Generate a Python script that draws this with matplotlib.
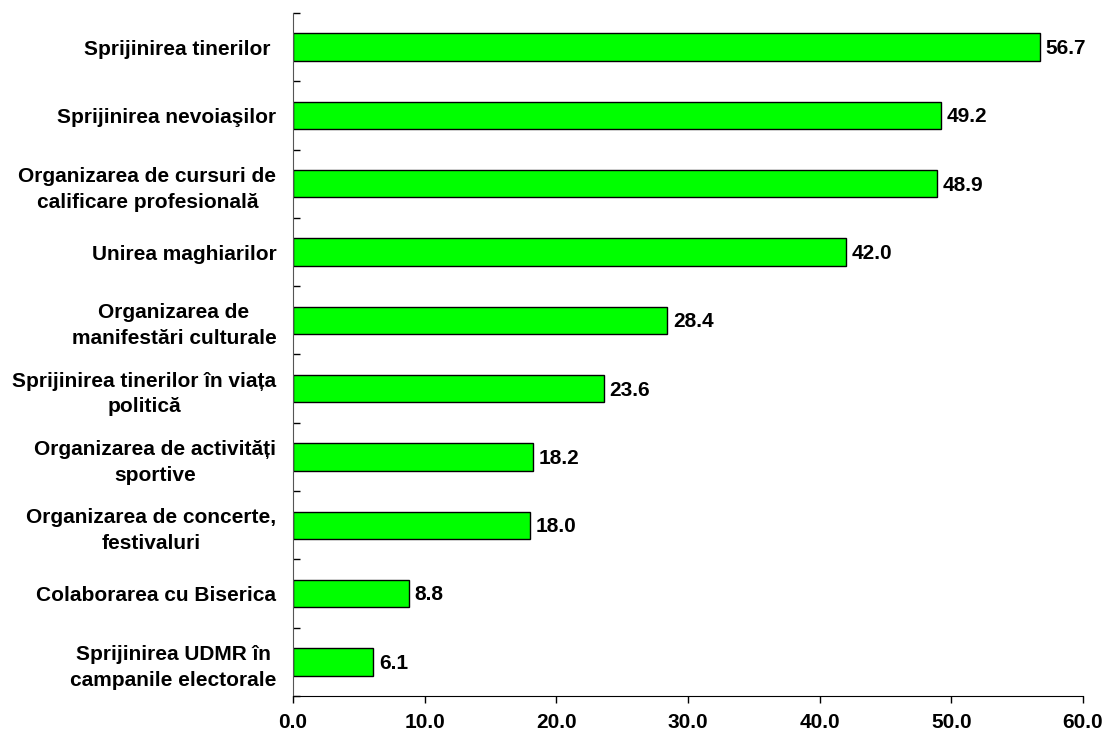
import numpy as np
import matplotlib.pyplot as plt
from matplotlib.ticker import FixedLocator, FormatStrFormatter

plt.rcParams['font.family'] = ['Liberation Sans', 'DejaVu Sans']
plt.rcParams['font.weight'] = 'bold'

categories = [
    "Sprijinirea tinerilor ",
    "Sprijinirea nevoiaşilor",
    "Organizarea de cursuri de\ncalificare profesională",
    "Unirea maghiarilor",
    "Organizarea de\nmanifestări culturale",
    "Sprijinirea tinerilor în viața\npolitică",
    "Organizarea de activități\nsportive",
    "Organizarea de concerte,\nfestivaluri",
    "Colaborarea cu Biserica",
    "Sprijinirea UDMR în\ncampanile electorale",
]
values = [56.7, 49.2, 48.9, 42.0, 28.4, 23.6, 18.2, 18.0, 8.8, 6.1]
xticks = [0, 10, 20, 30, 40, 50, 60]

fig = plt.figure(figsize=(11.06, 7.36), dpi=100)
# axes box: left spine x=293, right end x=1083, top y=13, bottom y=696
ax = fig.add_axes([293 / 1106, 40 / 736, 790 / 1106, 683 / 736])

y = np.arange(len(categories))
ax.barh(y, values, height=0.4, color='#00FF00', edgecolor='black', linewidth=1)

for yi, v in zip(y, values):
    ax.text(v + 0.45, yi + 0.02, "%.1f" % v, va='center', ha='left',
            fontsize=15, fontweight='bold')

ax.set_ylim(len(categories) - 0.5, -0.5)
ax.set_xlim(0, 60)

ax.set_yticks(y)
ax.set_yticklabels(categories, fontsize=15, fontweight='bold')
for lab in ax.get_yticklabels():
    lab.set_multialignment('center')
    lab.set_linespacing(1.45)
ax.tick_params(axis='y', which='major', length=0, pad=12)
ax.yaxis.set_minor_locator(FixedLocator(np.arange(-0.5, len(categories) - 0.4, 1.0)))
ax.tick_params(axis='y', which='minor', direction='in', length=5, width=1)

ax.set_xticks(xticks)
ax.xaxis.set_major_formatter(FormatStrFormatter('%.1f'))
ax.tick_params(axis='x', direction='out', length=5, width=1, labelsize=15, pad=7)
for lab in ax.get_xticklabels():
    lab.set_fontweight('bold')

ax.spines['top'].set_visible(False)
ax.spines['right'].set_visible(False)
ax.spines['left'].set_color('#555555')

fig.savefig('out.png', dpi=100)
